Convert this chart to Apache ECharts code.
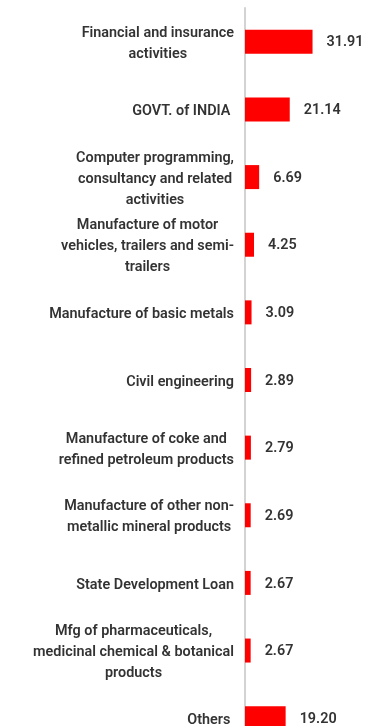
<!DOCTYPE html>
<html>
<head>
<meta charset="utf-8">
<script src="https://cdn.jsdelivr.net/npm/echarts@6/dist/echarts.min.js"></script>
<style>
html,body{margin:0;padding:0;background:#fff;}
#c{width:376px;height:726px;}
</style>
</head>
<body>
<div id="c"></div>
<script>
var categories = [
  "Financial and insurance\nactivities",
  "GOVT. of INDIA ",
  "Computer programming,\nconsultancy and related\nactivities",
  "Manufacture of motor\nvehicles, trailers and semi-\ntrailers",
  "Manufacture of basic metals",
  "Civil engineering",
  "Manufacture of coke and\nrefined petroleum products",
  "Manufacture of other non-\nmetallic mineral products",
  "State Development Loan",
  "Mfg of pharmaceuticals,\nmedicinal chemical & botanical\nproducts",
  "Others "
];
var values = [31.91, 21.14, 6.69, 4.25, 3.09, 2.89, 2.79, 2.69, 2.67, 2.67, 19.20];

var chart = echarts.init(document.getElementById('c'));
chart.setOption({
  animation: false,
  grid: { left: 245, right: 4, top: 8, height: 744, containLabel: false, outerBoundsMode: 'none' },
  xAxis: { type: 'value', min: 0, max: 60, show: false },
  yAxis: {
    type: 'category',
    data: categories,
    inverse: true,
    axisTick: { show: false },
    axisLine: { show: true, lineStyle: { color: '#d3d3d3', width: 2 } },
    axisLabel: {
      margin: 11,
      align: 'right',
      padding: [4, 0, 0, 0],
      formatter: function (v) {
        return v.split('\n').map(function (l) { return '{c|' + l + '}'; }).join('\n');
      },
      rich: {
        c: {
          align: 'center',
          fontFamily: 'Roboto',
          fontSize: 14.4,
          fontWeight: 600,
          color: '#333',
          lineHeight: 21
        }
      }
    }
  },
  series: [{
    type: 'bar',
    data: values,
    barWidth: 24,
    itemStyle: { color: '#ff0000' },
    label: {
      show: true,
      position: 'right',
      distance: 14,
      offset: [0, 1],
      fontFamily: 'Roboto',
      fontSize: 14.4,
      fontWeight: 600,
      color: '#333',
      formatter: function (p) { return p.value.toFixed(2); }
    }
  }]
});
</script>
</body>
</html>
